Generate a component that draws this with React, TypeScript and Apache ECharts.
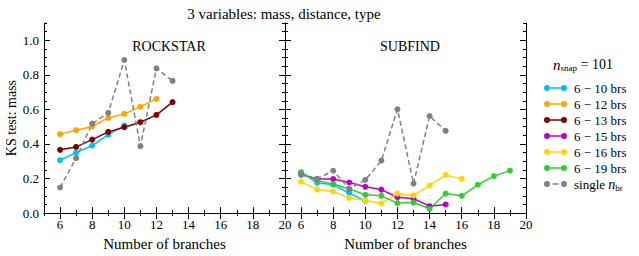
import React, { useEffect, useRef } from "react";
import * as echarts from "echarts";

const branches = [6, 7, 8, 9, 10, 11, 12, 13, 14, 15, 16, 17, 18, 19];

// ROCKSTAR panel
const rsCyan = [0.306, 0.35, 0.391, 0.454, 0.506];
const rsOrange = [0.457, 0.48, 0.501, 0.551, 0.574, 0.616, 0.661];
const rsMaroon = [0.366, 0.383, 0.425, 0.47, 0.497, 0.526, 0.568, 0.642];
const rsSingle = [0.148, 0.318, 0.518, 0.58, 0.886, 0.387, 0.838, 0.765];

// SUBFIND panel
const sfCyan = [0.237, 0.175, 0.164, 0.116, 0.071];
const sfMagenta = [0.225, 0.198, 0.197, 0.177, 0.152, 0.136, 0.092, 0.083, 0.04, 0.05];
const sfYellow = [0.181, 0.136, 0.125, 0.088, 0.073, 0.056, 0.113, 0.102, 0.16, 0.221, 0.198];
const sfGreen = [0.233, 0.188, 0.168, 0.139, 0.106, 0.1, 0.058, 0.061, 0.025, 0.113, 0.1, 0.164, 0.214, 0.246];
const sfSingle = [0.221, 0.198, 0.245, 0.14, 0.192, 0.304, 0.601, 0.171, 0.562, 0.476];

const xMajorTicks = [6, 8, 10, 12, 14, 16, 18, 20];
const xMinorTicks = [5, 6, 7, 8, 9, 10, 11, 12, 13, 14, 15, 16, 17, 18, 19, 20];
const yMajorTicks = [0, 0.2, 0.4, 0.6, 0.8, 1.0];
const yMinorTicks = [0, 0.05, 0.1, 0.15, 0.2, 0.25, 0.3, 0.35, 0.4, 0.45, 0.5, 0.55, 0.6, 0.65, 0.7, 0.75, 0.8, 0.85, 0.9, 0.95, 1.0, 1.05, 1.1];

const names = ["6 − 10 brs", "6 − 12 brs", "6 − 13 brs", "6 − 15 brs", "6 − 16 brs", "6 − 19 brs", "single"];
const colors = ["#00BFFF", "#FFA500", "#800000", "#BF00BF", "#FFD700", "#32CD32", "#808080"];

const FONT = "'Liberation Serif', 'Times New Roman', serif";

const zip = (vals: number[]) => vals.map((v, i) => [branches[i], v]);

const solidIcon =
  "path://M0,3A3,3 0 1,1 6,3A3,3 0 1,1 0,3Z M17,3A3,3 0 1,1 23,3A3,3 0 1,1 17,3Z M3,2.2L20,2.2L20,3.8L3,3.8Z";
const dashIcon =
  "path://M0,3A3,3 0 1,1 6,3A3,3 0 1,1 0,3Z M17,3A3,3 0 1,1 23,3A3,3 0 1,1 17,3Z M8.5,2.2L14.5,2.2L14.5,3.8L8.5,3.8Z";

function makeAxes(grid: number, showYLabels: boolean) {
  const x = [
    {
      gridIndex: grid, type: "value", min: 5, max: 20, position: "bottom",
      axisLine: { show: true, lineStyle: { color: "#000", width: 1 } },
      axisTick: { show: true, inside: true, length: 6, customValues: xMajorTicks, lineStyle: { color: "#000" } },
      axisLabel: { show: true, customValues: xMajorTicks, margin: 5, color: "#000", fontFamily: FONT, fontSize: 13 },
      splitLine: { show: false },
      name: "Number of branches", nameLocation: "middle", nameGap: 21,
      nameTextStyle: { color: "#000", fontFamily: FONT, fontSize: 15 },
    },
    {
      gridIndex: grid, type: "value", min: 5, max: 20, position: "bottom",
      axisLine: { show: false },
      axisTick: { show: true, inside: true, length: 3, customValues: xMinorTicks, lineStyle: { color: "#000" } },
      axisLabel: { show: false }, splitLine: { show: false },
    },
    {
      gridIndex: grid, type: "value", min: 5, max: 20, position: "top",
      axisLine: { show: true, lineStyle: { color: "#000", width: 1 } },
      axisTick: { show: true, inside: true, length: 6, customValues: xMajorTicks, lineStyle: { color: "#000" } },
      axisLabel: { show: false }, splitLine: { show: false },
    },
    {
      gridIndex: grid, type: "value", min: 5, max: 20, position: "top",
      axisLine: { show: false },
      axisTick: { show: true, inside: true, length: 3, customValues: xMinorTicks, lineStyle: { color: "#000" } },
      axisLabel: { show: false }, splitLine: { show: false },
    },
  ];
  const y = [
    {
      gridIndex: grid, type: "value", min: 0, max: 1.1, position: "left",
      axisLine: { show: true, lineStyle: { color: "#000", width: 1 } },
      axisTick: { show: true, inside: true, length: 6, customValues: yMajorTicks, lineStyle: { color: "#000" } },
      axisLabel: {
        show: showYLabels, customValues: yMajorTicks, margin: 5, color: "#000", fontFamily: FONT, fontSize: 13,
        formatter: (v: number) => v.toFixed(1),
      },
      splitLine: { show: false },
      name: showYLabels ? "KS test: mass" : "", nameLocation: "middle", nameGap: 25,
      nameTextStyle: { color: "#000", fontFamily: FONT, fontSize: 14 },
    },
    {
      gridIndex: grid, type: "value", min: 0, max: 1.1, position: "left",
      axisLine: { show: false },
      axisTick: { show: true, inside: true, length: 3, customValues: yMinorTicks, lineStyle: { color: "#000" } },
      axisLabel: { show: false }, splitLine: { show: false },
    },
    {
      gridIndex: grid, type: "value", min: 0, max: 1.1, position: "right",
      axisLine: { show: true, lineStyle: { color: "#000", width: 1 } },
      axisTick: { show: true, inside: true, length: 6, customValues: yMajorTicks, lineStyle: { color: "#000" } },
      axisLabel: { show: false }, splitLine: { show: false },
    },
    {
      gridIndex: grid, type: "value", min: 0, max: 1.1, position: "right",
      axisLine: { show: false },
      axisTick: { show: true, inside: true, length: 3, customValues: yMinorTicks, lineStyle: { color: "#000" } },
      axisLabel: { show: false }, splitLine: { show: false },
    },
  ];
  return { x, y };
}

function line(name: string, color: string, vals: number[], axis: number, dashed = false) {
  return {
    type: "line", name, data: zip(vals), xAxisIndex: axis, yAxisIndex: axis,
    symbol: "circle", symbolSize: 6, showSymbol: true,
    lineStyle: { color, width: 1.5, type: dashed ? [5, 3] : "solid" },
    itemStyle: { color },
    emphasis: { disabled: true },
  };
}

export default function App() {
  const ref = useRef<HTMLDivElement>(null);
  useEffect(() => {
    document.body.style.margin = "0";
    if (!ref.current) return;
    const chart = echarts.init(ref.current, undefined, { renderer: "svg" });
    const a0 = makeAxes(0, true);
    const a1 = makeAxes(1, false);
    chart.setOption({
      animation: false,
      backgroundColor: "#fff",
      textStyle: { fontFamily: FONT },
      title: [
        { text: "3 variables: mass, distance, type", left: 279, textAlign: "center", top: 1,
          textStyle: { fontFamily: FONT, fontSize: 15, fontWeight: "normal", color: "#000" } },
        { text: "ROCKSTAR", left: 164, textAlign: "center", top: 34,
          textStyle: { fontFamily: FONT, fontSize: 14, fontWeight: "normal", color: "#000" } },
        { text: "SUBFIND", left: 405, textAlign: "center", top: 34,
          textStyle: { fontFamily: FONT, fontSize: 14, fontWeight: "normal", color: "#000" } },
      ],
      grid: [
        { left: 44, top: 23, width: 241, height: 191 },
        { left: 285, top: 23, width: 241, height: 191 },
      ],
      xAxis: [...a0.x, ...a1.x],
      yAxis: [...a0.y, ...a1.y],
      legend: {
        orient: "vertical", left: 539, top: 75, itemWidth: 23, itemHeight: 6, itemGap: 0,
        selectedMode: false,
        data: names.map((n, i) => ({ name: n, icon: i === 6 ? dashIcon : solidIcon })),
        formatter: (n: string) => (n === "single" ? "{a|single }{i|n}{s|br}" : n),
        textStyle: {
          fontFamily: FONT, fontSize: 13, color: "#000", lineHeight: 16, padding: [0, 0, 0, 2],
          rich: {
            a: { fontFamily: FONT, fontSize: 13, color: "#000" },
            i: { fontFamily: FONT, fontSize: 14, fontStyle: "italic", color: "#000" },
            s: { fontFamily: FONT, fontSize: 9, color: "#000", verticalAlign: "bottom", padding: [6, 0, 0, 0] },
          },
        },
      },
      graphic: [
        {
          type: "text", left: 553, top: 57,
          style: {
            text: "{n|n}{s|snap}{t| = 101}",
            rich: {
              n: { fontFamily: FONT, fontSize: 15, fontStyle: "italic", fill: "#000" },
              s: { fontFamily: FONT, fontSize: 9, fill: "#000", verticalAlign: "bottom", padding: [6, 0, 0, 0] },
              t: { fontFamily: FONT, fontSize: 14, fill: "#000" },
            },
          },
        },
      ],
      series: [
        line(names[0], colors[0], rsCyan, 0),
        line(names[1], colors[1], rsOrange, 0),
        line(names[2], colors[2], rsMaroon, 0),
        line(names[6], colors[6], rsSingle, 0, true),
        line(names[0], colors[0], sfCyan, 4),
        line(names[3], colors[3], sfMagenta, 4),
        line(names[4], colors[4], sfYellow, 4),
        line(names[5], colors[5], sfGreen, 4),
        line(names[6], colors[6], sfSingle, 4, true),
      ],
    });
    return () => chart.dispose();
  }, []);
  return <div ref={ref} style={{ width: 639, height: 256 }} />;
}
